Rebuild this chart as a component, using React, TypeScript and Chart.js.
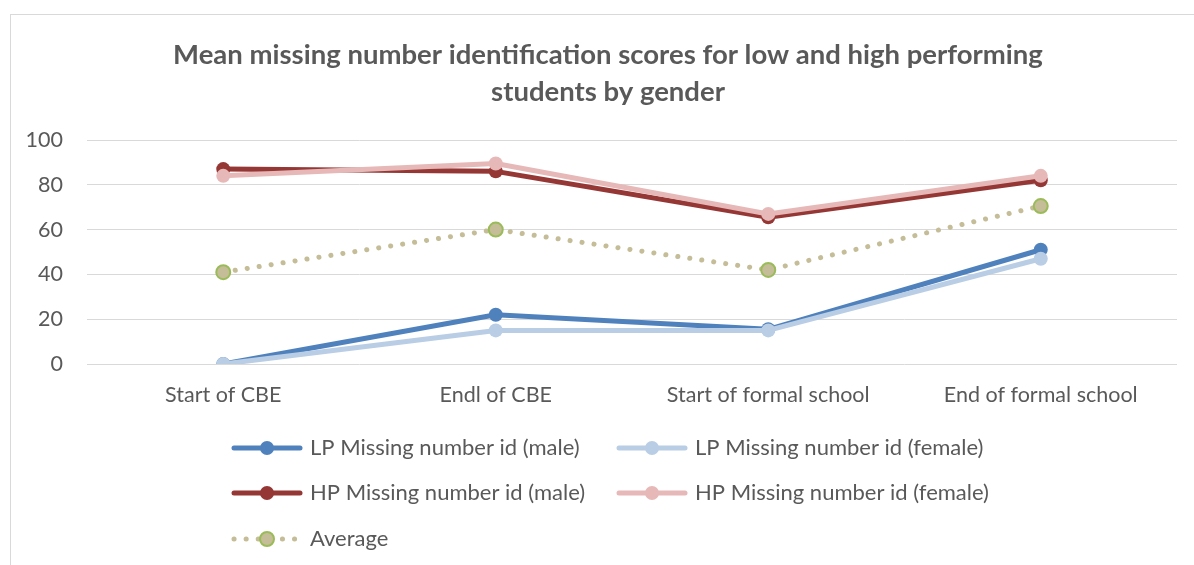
import React, { useEffect, useRef } from "react";
import { Chart, registerables } from "chart.js";

Chart.register(...registerables);

const categories = ["Start of CBE", "Endl of CBE", "Start of formal school", "End of formal school"];
const lpMale = [0, 22, 15.5, 51];
const lpFemale = [0, 15, 15, 47];
const hpMale = [87, 86, 65.5, 82];
const hpFemale = [84, 89.5, 67, 84];
const average = [41, 60, 42, 70.5];
const seriesNames = [
  "LP Missing number id (male)",
  "LP Missing number id (female)",
  "HP Missing number id (male)",
  "HP Missing number id (female)",
  "Average",
];
const titleLines = [
  "Mean missing number identification scores for low and high performing",
  "students by gender",
];
const yMin = 0;
const yMax = 100;
const yStep = 20;

const FONT = "Lato, 'Open Sans', sans-serif";
const TEXT = "#595959";

const decorPlugin = {
  id: "decor",
  beforeDraw(chart: any) {
    const ctx = chart.ctx;
    ctx.save();
    ctx.fillStyle = "#ffffff";
    ctx.fillRect(0, 0, chart.width, chart.height);
    ctx.strokeStyle = "#D9D9D9";
    ctx.lineWidth = 1;
    ctx.strokeRect(10.5, 14.5, chart.width + 40, chart.height + 40);
    ctx.restore();
  },
  afterDraw(chart: any) {
    const ctx = chart.ctx;
    ctx.save();
    ctx.fillStyle = TEXT;
    ctx.font = `bold 27.5px ${FONT}`;
    ctx.textAlign = "center";
    ctx.textBaseline = "middle";
    titleLines.forEach((t, i) => ctx.fillText(t, 608, 55 + i * 37));

    const colX = [232, 617];
    const rowY = [448, 493, 539];
    chart.data.datasets.forEach((ds: any, i: number) => {
      const x0 = colX[i % 2];
      const y = rowY[Math.floor(i / 2)];
      ctx.save();
      ctx.strokeStyle = ds.borderColor;
      ctx.lineWidth = ds.borderWidth;
      ctx.lineCap = "round";
      ctx.setLineDash(ds.borderDash || []);
      ctx.beginPath();
      ctx.moveTo(x0 + 2, y);
      ctx.lineTo(x0 + 68, y);
      ctx.stroke();
      ctx.setLineDash([]);
      ctx.beginPath();
      ctx.arc(x0 + 35, y, ds.pointRadius, 0, Math.PI * 2);
      ctx.fillStyle = ds.pointBackgroundColor;
      ctx.fill();
      if (ds.pointBorderWidth) {
        ctx.lineWidth = ds.pointBorderWidth;
        ctx.strokeStyle = ds.pointBorderColor;
        ctx.stroke();
      }
      ctx.restore();
      ctx.fillStyle = TEXT;
      ctx.font = `22px ${FONT}`;
      ctx.textAlign = "left";
      ctx.textBaseline = "middle";
      ctx.fillText(ds.label, x0 + 78, y);
    });
    ctx.restore();
  },
};

function solid(label: string, data: number[], color: string, order: number) {
  return {
    label,
    data,
    borderColor: color,
    backgroundColor: color,
    borderWidth: 5,
    borderJoinStyle: "round",
    borderCapStyle: "round",
    pointRadius: 7,
    pointBackgroundColor: color,
    pointBorderColor: color,
    pointBorderWidth: 0,
    tension: 0,
    order,
  };
}

export default function App() {
  const ref = useRef<HTMLCanvasElement>(null);
  useEffect(() => {
    if (!ref.current) return;
    const chart = new Chart(ref.current, {
      type: "line",
      data: {
        labels: categories,
        datasets: [
          solid(seriesNames[0], lpMale, "#4F81BD", 5),
          solid(seriesNames[1], lpFemale, "#B9CDE5", 4),
          solid(seriesNames[2], hpMale, "#953735", 3),
          solid(seriesNames[3], hpFemale, "#E6B9B8", 2),
          {
            label: seriesNames[4],
            data: average,
            borderColor: "#C4BD97",
            backgroundColor: "#C4BD97",
            borderWidth: 5,
            borderDash: [0.1, 12],
            borderCapStyle: "round",
            pointRadius: 7,
            pointBackgroundColor: "#C4BD97",
            pointBorderColor: "#9BBB59",
            pointBorderWidth: 2,
            tension: 0,
            order: 1,
          } as any,
        ] as any,
      },
      options: {
        animation: false,
        responsive: true,
        maintainAspectRatio: false,
        layout: { padding: { left: 10, right: 17, top: 140, bottom: 151 } },
        plugins: { legend: { display: false }, title: { display: false }, tooltip: { enabled: false } },
        scales: {
          x: {
            offset: true,
            grid: { display: false, drawTicks: false },
            border: { display: false },
            ticks: { color: TEXT, font: { family: FONT, size: 21.5 }, padding: 18, maxRotation: 0 },
            afterFit: (s: any) => { s.height = 50; },
          },
          y: {
            min: yMin,
            max: yMax,
            grid: { color: "#D9D9D9", lineWidth: 1, drawTicks: false },
            border: { display: false },
            ticks: { stepSize: yStep, color: TEXT, font: { family: FONT, size: 21.5 }, padding: 24 },
            afterFit: (s: any) => { s.width = 77; },
          },
        },
      },
      plugins: [decorPlugin],
    });
    return () => chart.destroy();
  }, []);
  return (
    <div style={{ position: "absolute", left: 0, top: 0, width: 1194, height: 565 }}>
      <canvas ref={ref} />
    </div>
  );
}
